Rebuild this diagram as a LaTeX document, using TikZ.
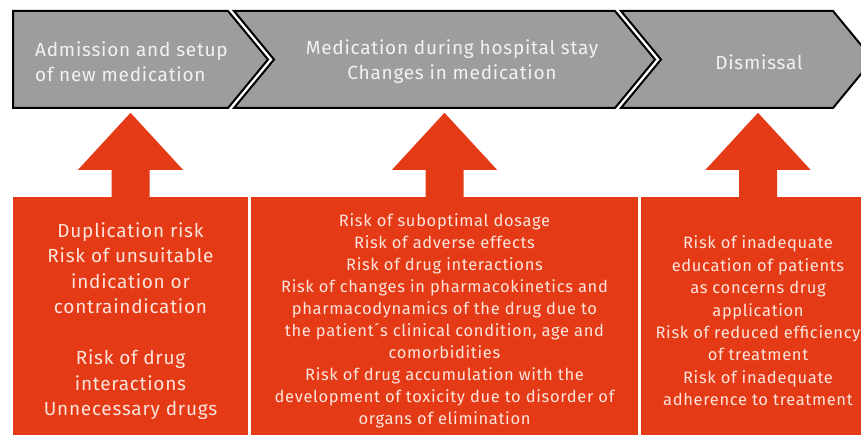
\documentclass[tikz,border=0pt]{standalone}
\usepackage{fontspec}
\setmainfont{Fira Sans}[LetterSpace=4]
\definecolor{stagegray}{RGB}{157,157,159}
\definecolor{riskred}{RGB}{229,58,22}
\definecolor{risktext}{RGB}{252,228,220}
\definecolor{stagetext}{RGB}{242,242,242}
\usetikzlibrary{calc}

\begin{document}
\begin{tikzpicture}[x=1pt,y=-1pt]

%
% Styles
%
\tikzstyle{stage}      = [fill=stagegray,draw=black,line width=2pt,line join=miter]
\tikzstyle{stagelabel} = [text=stagetext,inner sep=0pt,font=\fontsize{19}{25}\selectfont]
\tikzstyle{risk}       = [fill=riskred,text=risktext,inner sep=0pt,align=center,minimum height=248pt]
\tikzstyle{uparrow}    = [fill=riskred]

\useasboundingbox (0,0) rectangle (861,435);
\clip (0,0) rectangle (861,435);

% stages
\draw[stage] (13,11) -- (228,11) -- (268,59.5) -- (228,108) -- (13,108) -- cycle;
\draw[stage] (234,11) -- (615,11) -- (655,59.5) -- (615,108) -- (234,108) -- (274,59.5) -- cycle;
\draw[stage] (621,11) -- (833,11) -- (873,59.5) -- (833,108) -- (621,108) -- (661,59.5) -- cycle;

\node[stagelabel,anchor=west,align=left] (admission) at (35,61.5) {Admission and setup\\of new medication};
\node[stagelabel,align=center]           (stay)      at (452,61.5) {Medication during hospital stay\\Changes in medication};
\node[stagelabel]                        (dismissal) at (759,62)   {Dismissal};

% risks
\node[risk,minimum width=235pt,font=\fontsize{19}{25.5}\selectfont] (admrisk) at (130.5,321)
  {Duplication risk\\Risk of unsuitable\\indication or\\contraindication\\[25.5pt]
   Risk of drug\\interactions\\Unnecessary drugs};
\node[risk,minimum width=387pt,font=\fontsize{16.5}{22}\selectfont] (stayrisk) at (444.5,321)
  {Risk of suboptimal dosage\\Risk of adverse effects\\Risk of drug interactions\\
   Risk of changes in pharmacokinetics and\\pharmacodynamics of the drug due to\\
   the patient´s clinical condition, age and\\comorbidities\\
   Risk of drug accumulation with the\\development of toxicity due to disorder of\\organs of elimination};
\node[risk,minimum width=234pt,font=\fontsize{16.5}{22.4}\selectfont] (disrisk) at (758,321)
  {Risk of inadequate\\education of patients\\as concerns drug\\application\\
   Risk of reduced efficiency\\of treatment\\Risk of inadequate\\adherence to treatment};

% arrows
\fill[uparrow] ($(admrisk.north)+(-19,1)$) -- ++(0,-28) -- ++(-33.5,0) -- ($(admrisk.north)+(0,-84)$)
  -- ($(admrisk.north)+(52.5,-27)$) -- ++(-33.5,0) -- ++(0,28) -- cycle;
\fill[uparrow] ($(stayrisk.north)+(-19,1)$) -- ++(0,-28) -- ++(-33.5,0) -- ($(stayrisk.north)+(0,-84)$)
  -- ($(stayrisk.north)+(52.5,-27)$) -- ++(-33.5,0) -- ++(0,28) -- cycle;
\fill[uparrow] ($(disrisk.north)+(-19,1)$) -- ++(0,-28) -- ++(-33.5,0) -- ($(disrisk.north)+(0,-84)$)
  -- ($(disrisk.north)+(52.5,-27)$) -- ++(-33.5,0) -- ++(0,28) -- cycle;

\end{tikzpicture}
\end{document}
